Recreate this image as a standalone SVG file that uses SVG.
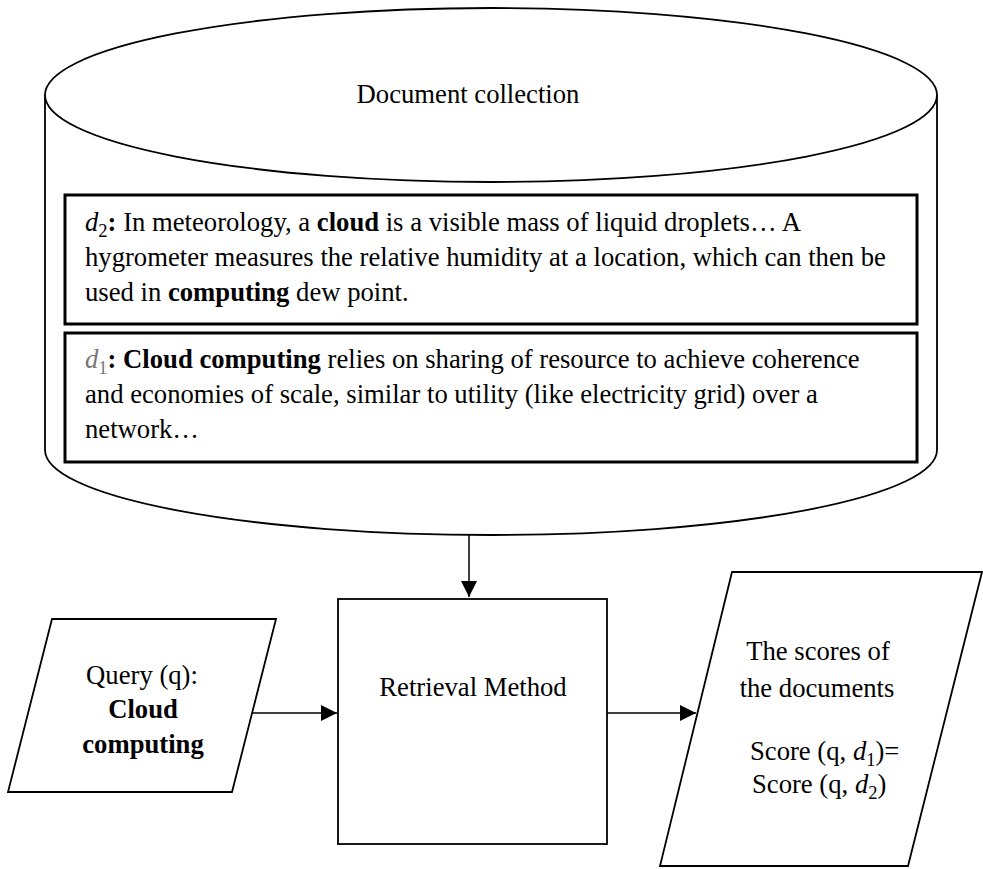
<svg xmlns="http://www.w3.org/2000/svg" width="983" height="869" viewBox="0 0 983 869" font-family="'Liberation Serif', Tinos, 'Times New Roman', serif">
<style>
  text { font-family: 'Liberation Serif', Tinos, 'Times New Roman', serif; font-size: 26.67px; fill: #000; }
  .b { font-weight: bold; }
  .m { font-style: italic; }
  .sub { font-size: 18.5px; font-style: normal; }
  .shape { fill: #fff; stroke: #000; stroke-width: 1.8; }
  .doc { fill: #fff; stroke: #000; stroke-width: 3; }
  .conn { stroke: #000; stroke-width: 1.5; fill: none; }
</style>
<defs>
  <marker id="arrow" markerUnits="userSpaceOnUse" markerWidth="16" markerHeight="16" viewBox="0 0 16 16" refX="16" refY="8" orient="auto">
    <path d="M0,0 L16,8 L0,16 Z" fill="#000"/>
  </marker>
</defs>
<rect width="983" height="869" fill="#fff"/>

<g id="document-collection">
  <path class="shape" d="M45,95 L45,450 A446,85 0 0 0 937,450 L937,95"/>
  <ellipse class="shape" cx="491" cy="95" rx="446" ry="87"/>
  <text x="468" y="103" text-anchor="middle">Document collection</text>
</g>

<g id="doc-d2">
  <rect class="doc" x="65" y="195" width="852" height="129"/>
  <text x="85" y="231"><tspan class="m">d</tspan><tspan class="sub" dy="6">2</tspan><tspan class="b" dy="-6">:</tspan> In meteorology, a <tspan class="b">cloud</tspan> is a visible mass of liquid droplets… A</text>
  <text x="85" y="266">hygrometer measures the relative humidity at a location, which can then be</text>
  <text x="85" y="301">used in <tspan class="b">computing</tspan> dew point.</text>
</g>

<g id="doc-d1">
  <rect class="doc" x="65" y="333" width="852" height="129"/>
  <text x="85" y="368"><tspan class="m" fill="#777">d</tspan><tspan class="sub" fill="#777" dy="6">1</tspan><tspan class="b" dy="-6">: Cloud computing</tspan> relies on sharing of resource to achieve coherence</text>
  <text x="85" y="403">and economies of scale, similar to utility (like electricity grid) over a</text>
  <text x="85" y="438">network…</text>
</g>

<g id="query">
  <polygon class="shape" points="52,619 276,619 232,792 8,792"/>
  <text x="142" y="684" text-anchor="middle">Query (q):</text>
  <text class="b" x="143" y="718" text-anchor="middle">Cloud</text>
  <text class="b" x="143" y="753" text-anchor="middle">computing</text>
</g>

<g id="retrieval-method">
  <rect class="shape" x="338" y="599" width="269" height="245"/>
  <text x="473" y="696" text-anchor="middle">Retrieval Method</text>
</g>

<g id="scores">
  <polygon class="shape" points="732,572 982,572 908,866 660,866"/>
  <text x="818" y="660" text-anchor="middle">The scores of</text>
  <text x="817" y="697" text-anchor="middle">the documents</text>
  <text x="750" y="760">Score (q, <tspan class="m">d</tspan><tspan class="sub" dy="6">1</tspan><tspan dy="-6">)=</tspan></text>
  <text x="752" y="793">Score (q, <tspan class="m">d</tspan><tspan class="sub" dy="6">2</tspan><tspan dy="-6">)</tspan></text>
</g>

<g id="connectors">
  <line class="conn" x1="469" y1="535" x2="469" y2="597" marker-end="url(#arrow)"/>
  <line class="conn" x1="253" y1="713" x2="337" y2="713" marker-end="url(#arrow)"/>
  <line class="conn" x1="607" y1="713" x2="696" y2="713" marker-end="url(#arrow)"/>
</g>
</svg>
